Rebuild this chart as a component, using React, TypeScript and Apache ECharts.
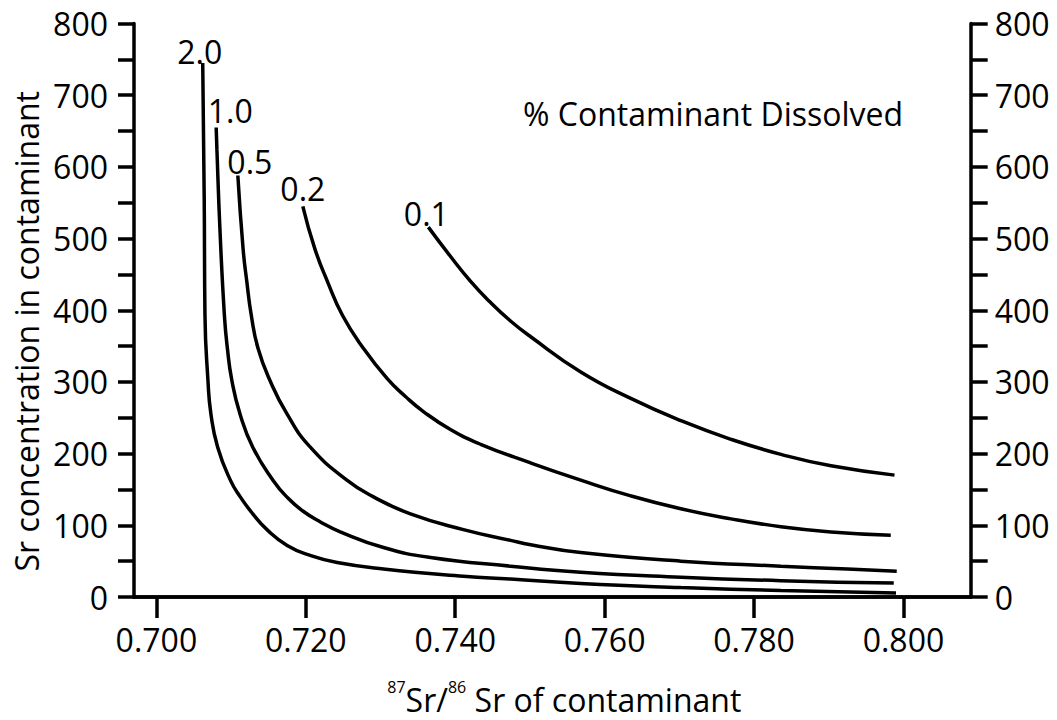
import React, { useEffect, useRef } from 'react';
import * as echarts from 'echarts';

// ---- data ----
const xTicks = [0.7, 0.72, 0.74, 0.76, 0.78, 0.8];
const curveLabels = ['2.0', '1.0', '0.5', '0.2', '0.1'];

const curve20 = [
  [0.7062, 745], [0.7064, 555], [0.7065, 393], [0.7069, 302], [0.7073, 255],
  [0.7082, 209], [0.7099, 163], [0.7112, 140], [0.7129, 116], [0.7148, 94],
  [0.7175, 72], [0.7206, 58], [0.7242, 48], [0.7304, 39], [0.7411, 29],
  [0.7474, 25], [0.7568, 18.7], [0.7702, 13.1], [0.7836, 9], [0.799, 5.5],
];
const curve10 = [
  [0.708, 655], [0.7081, 624], [0.7085, 514], [0.7091, 393], [0.7095, 347],
  [0.7101, 302], [0.7112, 255], [0.7129, 209], [0.7156, 163], [0.7176, 138],
  [0.7196, 120], [0.7219, 105], [0.7246, 91], [0.7304, 69], [0.7367, 55],
  [0.7474, 43], [0.7568, 34.6], [0.7702, 27.7], [0.7836, 22.8], [0.7987, 19.4],
];
const curve05 = [
  [0.7109, 588], [0.7116, 486], [0.7121, 440], [0.7127, 393], [0.7136, 347],
  [0.7152, 302], [0.7175, 255], [0.7206, 209], [0.7255, 163], [0.729, 140],
  [0.734, 116], [0.7411, 94], [0.7474, 79], [0.7501, 73], [0.7568, 62],
  [0.7702, 50], [0.7836, 43], [0.7925, 39], [0.7991, 36],
];
const curve02 = [
  [0.7196, 545], [0.7212, 486], [0.7229, 440], [0.7249, 393], [0.7277, 347],
  [0.7309, 304.5], [0.7333, 280], [0.7357, 259], [0.7393, 234], [0.7434, 213],
  [0.7501, 187], [0.7568, 163], [0.7635, 141], [0.7702, 123], [0.7769, 109],
  [0.7836, 98], [0.7903, 90.7], [0.7983, 86],
];
const curve01 = [
  [0.7364, 516], [0.7393, 476], [0.742, 441], [0.7447, 411], [0.7474, 385],
  [0.7501, 363], [0.7568, 314], [0.7635, 277], [0.7702, 246], [0.7769, 220],
  [0.7836, 199], [0.7903, 183], [0.7988, 170],
];
const curves = [curve20, curve10, curve05, curve02, curve01];

// ---- styling ----
const FONT = '"Open Sans", "Noto Sans", sans-serif';
const labelOffsets = [[-3, 5], [14, -1], [12, 2], [0, -2], [-2, 2]];

export default function App() {
  const ref = useRef<HTMLDivElement>(null);

  useEffect(() => {
    if (!ref.current) return;
    const chart = echarts.init(ref.current, undefined, { renderer: 'svg' });
    const yFmt = (v: number) => (v % 100 === 0 ? String(v) : '');
    const axisLine = { show: true, lineStyle: { color: '#000', width: 3.5 } };
    const tickStyle = { color: '#000', width: 3.5 };
    const labelText = { color: '#000', fontSize: 32, fontFamily: FONT };

    chart.setOption({
      animation: false,
      backgroundColor: '#fff',
      grid: { left: 134, right: 86.3, top: 23.5, bottom: 118.7, containLabel: false },
      graphic: [
        {
          type: 'text',
          x: 523,
          y: 113,
          style: {
            text: '% Contaminant Dissolved',
            fill: '#000',
            font: `32px ${FONT}`,
            align: 'left',
            verticalAlign: 'middle',
          },
        },
      ],
      xAxis: [
        {
          type: 'value',
          position: 'bottom',
          min: 0.697,
          max: 0.809,
          axisLine,
          axisTick: { show: true, length: 21, lineStyle: tickStyle, customValues: xTicks },
          axisLabel: {
            ...labelText,
            margin: 26,
            customValues: xTicks,
            formatter: (v: number) => v.toFixed(3),
          },
          splitLine: { show: false },
          name: '{sup|87}{main|Sr/}{sup|86}{main| Sr of contaminant}',
          nameLocation: 'middle',
          nameGap: 82,
          nameTextStyle: {
            padding: [0, 0, 0, 24],
            rich: {
              sup: { fontSize: 16, lineHeight: 18, verticalAlign: 'top', color: '#000', fontFamily: FONT },
              main: { fontSize: 32, lineHeight: 40, color: '#000', fontFamily: FONT },
            },
          },
        },
        {
          type: 'value',
          position: 'top',
          min: 0.697,
          max: 0.809,
          axisLine,
          axisTick: { show: false },
          axisLabel: { show: false },
          splitLine: { show: false },
        },
      ],
      yAxis: [
        {
          type: 'value',
          position: 'left',
          min: 0,
          max: 800,
          interval: 50,
          axisLine,
          axisTick: { show: true, length: 16, lineStyle: tickStyle },
          axisLabel: { ...labelText, margin: 26, padding: [4, 0, 0, 0], formatter: yFmt },
          splitLine: { show: false },
          name: 'Sr concentration in contaminant',
          nameLocation: 'middle',
          nameGap: 84,
          nameTextStyle: { ...labelText, padding: [0, 42, 0, 0] },
        },
        {
          type: 'value',
          position: 'right',
          min: 0,
          max: 800,
          interval: 50,
          axisLine,
          axisTick: { show: true, length: 17, lineStyle: tickStyle },
          axisLabel: { ...labelText, margin: 24, formatter: yFmt },
          splitLine: { show: false },
        },
      ],
      series: curves.map((pts, i) => ({
        type: 'line',
        name: curveLabels[i],
        xAxisIndex: 0,
        yAxisIndex: 0,
        smooth: 0.5,
        showSymbol: true,
        symbol: 'circle',
        symbolSize: 0,
        lineStyle: { color: '#000', width: 3.5 },
        itemStyle: { color: '#000' },
        emphasis: { disabled: true },
        silent: true,
        data: pts.map((p, j) =>
          j === 0
            ? {
                value: p,
                label: {
                  show: true,
                  formatter: curveLabels[i],
                  position: 'top',
                  distance: 0,
                  offset: labelOffsets[i],
                  ...labelText,
                },
              }
            : p
        ),
      })),
    });

    return () => chart.dispose();
  }, []);

  return (
    <div
      ref={ref}
      style={{ position: 'fixed', left: 0, top: 0, width: 1057, height: 720, background: '#fff' }}
    />
  );
}
